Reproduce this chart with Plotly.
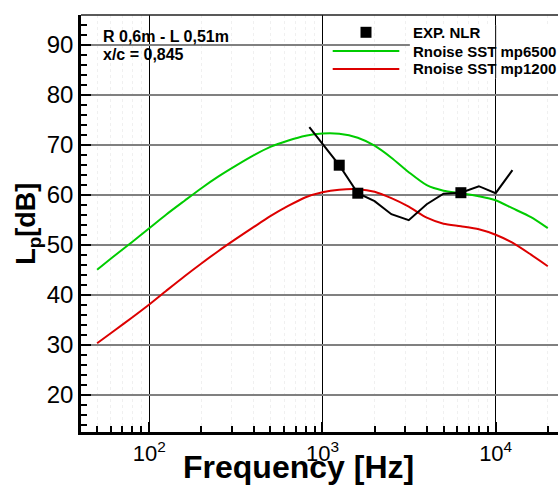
import plotly.graph_objects as go

# One-third octave band centre frequencies [Hz] of the predictions
freq = [50, 63, 80, 100, 125, 160, 200, 250, 315, 400,
        500, 630, 800, 1000, 1250, 1600, 2000, 2500, 3150, 4000,
        5000, 6300, 8000, 10000, 12500, 16000, 20000]

# Predicted sound pressure level [dB]
lp_mp6500 = [45.0, 47.8, 50.6, 53.3, 56.0, 58.8, 61.3, 63.6, 65.75, 67.85,
             69.55, 70.8, 71.8, 72.25, 72.2, 71.4, 69.8, 67.4, 64.5, 61.9,
             60.8, 60.3, 59.7, 58.9, 57.3, 55.5, 53.3]
lp_mp1200 = [30.3, 32.85, 35.5, 38.05, 40.75, 43.7, 46.25, 48.7, 51.1, 53.5,
             55.7, 57.7, 59.5, 60.5, 61.0, 61.1, 60.6, 59.3, 57.6, 55.4,
             54.2, 53.7, 53.1, 52.0, 50.4, 48.0, 45.7]

# Measured spectrum (NLR)
exp_freq = [840, 1250, 1600, 2000, 2500, 3150, 4000, 5000, 6300, 8000, 10000, 12500]
exp_lp = [73.5, 65.9, 60.3, 58.7, 56.1, 54.9, 58.1, 60.2, 60.4, 61.7, 60.3, 64.9]

# Highlighted measurement points
nlr_freq = [1250, 1600, 6300]
nlr_lp = [65.9, 60.3, 60.4]

major_x = [100, 1000, 10000]
major_x_text = ["10<sup>2</sup>", "10<sup>3</sup>", "10<sup>4</sup>"]
minor_x = [40, 50, 60, 70, 80, 90, 200, 300, 400, 500, 600, 700, 800, 900,
           2000, 3000, 4000, 5000, 6000, 7000, 8000, 9000, 20000]

GREEN = "#00CC00"
RED = "#DD0000"
FONT = "Liberation Sans, Arial, sans-serif"

W, H = 558, 486
ML, MR, MT, MB = 81, 0, 15, 54
PW, PH = W - ML - MR, H - MT - MB


def px(xp):
    return (xp - ML) / PW


def py(yp):
    return (H - MB - yp) / PH


fig = go.Figure()

fig.add_trace(go.Scatter(x=freq, y=lp_mp6500, mode="lines",
                         line=dict(color=GREEN, width=2, shape="spline", smoothing=0.7),
                         showlegend=False))
fig.add_trace(go.Scatter(x=freq, y=lp_mp1200, mode="lines",
                         line=dict(color=RED, width=2, shape="spline", smoothing=0.7),
                         showlegend=False))
fig.add_trace(go.Scatter(x=exp_freq, y=exp_lp, mode="lines",
                         line=dict(color="black", width=2), showlegend=False))
fig.add_trace(go.Scatter(x=nlr_freq, y=nlr_lp, mode="markers",
                         marker=dict(symbol="square", size=11, color="black"),
                         showlegend=False))

shapes = [
    # blank panel behind the legend text
    dict(type="rect", xref="x", yref="y", x0=3197, x1=30000, y0=83.3, y1=93.9,
         fillcolor="white", line=dict(width=0), layer="between"),
    dict(type="line", xref="x", yref="y", x0=10000, x1=10000, y0=83.3, y1=93.9,
         line=dict(color="black", width=1), layer="between"),
    # top frame
    dict(type="line", xref="paper", yref="paper", x0=0, x1=1, y0=1, y1=1,
         line=dict(color="#222222", width=1.5), layer="above"),
    # legend keys
    dict(type="rect", xref="paper", yref="paper",
         x0=px(360.5), x1=px(371.5), y0=py(37.8), y1=py(26.8),
         fillcolor="black", line=dict(width=0), layer="above"),
    dict(type="line", xref="paper", yref="paper",
         x0=px(332.7), x1=px(399.3), y0=py(51), y1=py(51),
         line=dict(color=GREEN, width=2), layer="above"),
    dict(type="line", xref="paper", yref="paper",
         x0=px(332.7), x1=px(399.3), y0=py(69), y1=py(69),
         line=dict(color=RED, width=2), layer="above"),
]

annotations = [
    dict(text="<b>EXP. NLR</b>", x=px(411), y=py(32.3)),
    dict(text="<b>Rnoise SST mp6500</b>", x=px(411), y=py(51)),
    dict(text="<b>Rnoise SST mp1200</b>", x=px(411), y=py(69)),
    dict(text="<b>R 0,6m - L 0,51m</b>", x=px(100.7), y=py(36.5), size=16),
    dict(text="<b>x/c = 0,845</b>", x=px(100.7), y=py(54.2), size=16),
]
ann = []
for a in annotations:
    ann.append(dict(text=a["text"], xref="paper", yref="paper", x=a["x"], y=a["y"],
                    xanchor="left", yanchor="middle", showarrow=False,
                    font=dict(family=FONT, size=a.get("size", 15), color="black")))

ann.append(dict(text="<b>Frequency [Hz]</b>", xref="paper", yref="paper",
                x=px(298.3), y=py(467), xanchor="center", yanchor="middle",
                showarrow=False, font=dict(family=FONT, size=32, color="black")))
ann.append(dict(text="<b>L<sub>p</sub>[dB]</b>", xref="paper", yref="paper",
                x=px(28), y=py(223.8), xanchor="center", yanchor="middle",
                textangle=-90, showarrow=False,
                font=dict(family=FONT, size=27, color="black")))

fig.update_layout(
    width=W, height=H,
    margin=dict(l=ML, r=MR, t=MT, b=MB, pad=0),
    paper_bgcolor="white", plot_bgcolor="white",
    font=dict(family=FONT, color="black"),
    shapes=shapes, annotations=ann, showlegend=False,
    xaxis=dict(
        type="log", range=[1.606, 4.360],
        tickmode="array", tickvals=major_x, ticktext=major_x_text,
        ticks="inside", ticklen=10, tickwidth=2, tickcolor="black",
        tickfont=dict(family=FONT, size=22, color="black"),
        showline=True, linecolor="black", linewidth=2.5, mirror=False,
        showgrid=True, gridcolor="black", gridwidth=1,
        zeroline=False,
        minor=dict(tickmode="array", tickvals=minor_x, ticks="inside", ticklen=6,
                   tickwidth=1.5, tickcolor="black", showgrid=True,
                   gridcolor="#f0f0f0", gridwidth=1, griddash="dot"),
    ),
    yaxis=dict(
        range=[12.54, 95.94],
        tickmode="linear", tick0=0, dtick=10,
        ticks="inside", ticklen=10, tickwidth=2, tickcolor="black",
        tickfont=dict(family=FONT, size=24, color="black"),
        showline=True, linecolor="black", linewidth=2.5, mirror=False,
        showgrid=True, gridcolor="#808080", gridwidth=2,
        zeroline=False,
        minor=dict(tickmode="linear", tick0=0, dtick=2, ticks="inside", ticklen=6,
                   tickwidth=1.5, tickcolor="black", showgrid=False),
    ),
)

fig.write_html("out.html")
